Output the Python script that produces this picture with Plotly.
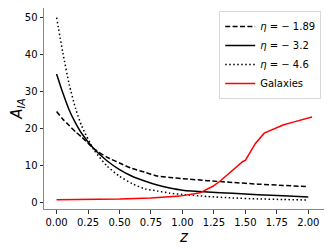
import plotly.graph_objects as go

# eta curves
z_eta = [0.0, 0.05, 0.1, 0.15, 0.2, 0.3, 0.4, 0.5, 0.6, 0.7, 0.8, 0.9, 1.0, 1.2, 1.4, 1.6, 1.8, 2.0]
a_eta_189 = [24.6, 22.5, 20.8, 19.1, 17.6, 14.4, 12.2, 10.6, 9.1, 8.1, 7.05, 6.65, 6.35, 5.8, 5.3, 4.85, 4.5, 4.17]
a_eta_32 = [34.8, 29.6, 25.0, 21.5, 18.6, 14.3, 11.2, 8.8, 7.0, 5.7, 4.6, 3.8, 3.2, 2.7, 2.4, 2.0, 1.7, 1.38]
a_eta_46 = [50.1, 40.5, 32.0, 25.5, 20.6, 14.0, 9.8, 7.0, 5.0, 3.6, 3.0, 2.4, 2.05, 1.5, 1.1, 0.85, 0.68, 0.54]

# galaxies
z_gal = [0.0, 0.25, 0.5, 0.75, 0.98, 1.14, 1.245, 1.30, 1.38, 1.48, 1.50, 1.58, 1.65, 1.80, 1.88, 2.03]
a_gal = [0.6, 0.65, 0.8, 1.1, 1.6, 2.5, 4.35, 5.7, 8.1, 11.0, 11.3, 15.9, 18.7, 20.9, 21.7, 23.1]

x_ticks = [0.0, 0.25, 0.5, 0.75, 1.0, 1.25, 1.5, 1.75, 2.0]
y_ticks = [0, 10, 20, 30, 40, 50]

font = "DejaVu Sans"

fig = go.Figure()
fig.add_trace(go.Scatter(x=z_eta, y=a_eta_189, mode="lines", name="<i>η</i> = − 1.89",
                         line=dict(color="black", width=1.5, dash="5px,2.4px", shape="spline", smoothing=0.6)))
fig.add_trace(go.Scatter(x=z_eta, y=a_eta_32, mode="lines", name="<i>η</i> = − 3.2",
                         line=dict(color="black", width=1.5, shape="spline", smoothing=0.6)))
fig.add_trace(go.Scatter(x=z_eta, y=a_eta_46, mode="lines", name="<i>η</i> = − 4.6",
                         line=dict(color="black", width=1.5, dash="1.5px,2.5px", shape="spline", smoothing=0.6)))
fig.add_trace(go.Scatter(x=z_gal, y=a_gal, mode="lines", name="Galaxies",
                         line=dict(color="red", width=1.5)))

axis_common = dict(
    showgrid=False, zeroline=False, showline=True, linecolor="#888", linewidth=1,
    mirror=True, ticks="outside", ticklen=3.5, tickwidth=1, tickcolor="#333",
    tickfont=dict(family=font, size=10, color="black"),
)

# page body has an 8px margin, so the figure is 8px smaller and margins compensate
fig.update_layout(
    width=324, height=241,
    margin=dict(l=36, r=8, t=0, b=40),
    paper_bgcolor="white", plot_bgcolor="white",
    font=dict(family=font, size=10, color="black"),
    showlegend=True,
    legend=dict(x=0.99, y=0.985, xanchor="right", yanchor="top",
                bgcolor="rgba(255,255,255,0.8)", bordercolor="#d8d8d8", borderwidth=1,
                font=dict(family=font, size=10), tracegroupgap=0, itemwidth=30),
    xaxis=dict(range=[-0.1, 2.125], tickvals=x_ticks, tickformat=".2f",
               title=dict(text="<i>z</i>", font=dict(family=font, size=15), standoff=1),
               **axis_common),
    yaxis=dict(range=[-1.9, 52.7], tickvals=y_ticks,
               title=dict(text="<i>A</i><sub><i>IA</i></sub>", font=dict(family=font, size=15), standoff=5),
               **axis_common),
)

fig.write_html("out.html")
